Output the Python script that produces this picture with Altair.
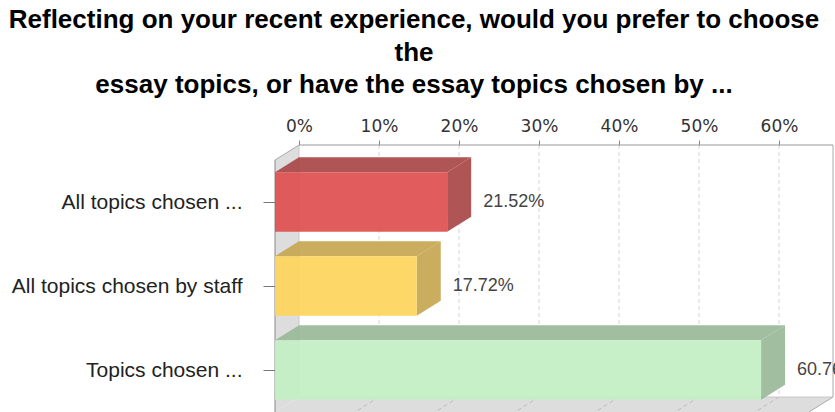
import json
import altair as alt
import pandas as pd

# ---------------- data ----------------
title_lines = [
    "Reflecting on your recent experience, would you prefer to choose",
    "the",
    "essay topics, or have the essay topics chosen by ...",
]
categories = ["All topics chosen ...", "All topics chosen by staff", "Topics chosen ..."]
values = [21.52, 17.72, 60.76]
tick_values = [0, 10, 20, 30, 40, 50, 60]

# ---------------- style / 3D geometry constants ----------------
front_colors = ["#DE4E4E", "#FDD55C", "#C3EFC3"]
side_colors = ["#A84646", "#C6A650", "#99B899"]
X_MAX = 66.75      # right edge of the back wall (in % units)
DX = 3.0           # depth offset along x (in % units)
DY = 15 / 84       # depth offset along y (in band units)
PAD = 0.145        # padding inside each band
N = len(categories)

xs = alt.Scale(domain=[-DX, X_MAX], nice=False, zero=False)
ys = alt.Scale(domain=[0, N + DY], nice=False, zero=False, reverse=True)

label_expr = json.dumps(categories) + "[floor(datum.value)]"
x_axis = alt.Axis(
    orient="top", values=tick_values, labelExpr="datum.value + '%'",
    tickSize=5, tickColor="#888888", domain=False, grid=False,
    labelFont="DejaVu Sans", labelFontSize=17, labelColor="#333333",
    labelPadding=5, labelOverlap=False, labelFlush=False, title=None)
y_axis = alt.Axis(
    orient="left", values=[i + 0.5 + DY for i in range(N)], labelExpr=label_expr,
    tickSize=12, tickColor="#777777", domain=False, grid=False,
    labelFont="Liberation Sans", labelFontSize=21, labelColor="#222222",
    labelPadding=21, labelLimit=400, labelOverlap=False, labelFlush=False, title=None)

# bar faces
fronts, tops, sides, labels = [], [], [], []
for i, (c, v) in enumerate(zip(categories, values)):
    fronts.append(dict(cat=c, x=-DX, x2=v - DX, y=i + DY + PAD, y2=i + DY + 1 - PAD, fill=front_colors[i]))
    tops.append(dict(face=f"t{i}", y=i + PAD, x=0, x2=v, fill=side_colors[i]))
    tops.append(dict(face=f"t{i}", y=i + PAD + DY, x=-DX, x2=v - DX, fill=side_colors[i]))
    sides.append(dict(face=f"s{i}", x=v - DX, y=i + PAD + DY, y2=i + 1 - PAD + DY, fill=side_colors[i]))
    sides.append(dict(face=f"s{i}", x=v, y=i + PAD, y2=i + 1 - PAD, fill=side_colors[i]))
    labels.append(dict(x=v, y=i + 0.5 + DY, text=f"{v:.2f}%"))

wall = pd.DataFrame([
    dict(face="wall", x=-DX, y=DY, y2=N + DY),
    dict(face="wall", x=0, y=0, y2=N),
])
floor = pd.DataFrame([
    dict(face="floor", y=N, x=0, x2=X_MAX),
    dict(face="floor", y=N + DY, x=-DX, x2=X_MAX - DX),
])

solid_lines = pd.DataFrame([
    dict(x=0, x2=X_MAX, y=0, y2=0, c="#999999"),              # top axis line
    dict(x=X_MAX, x2=X_MAX, y=0, y2=N, c="#AAAAAA"),          # right border
    dict(x=0, x2=0, y=0, y2=N, c="#C8C8C8"),                  # wall back edge
    dict(x=0, x2=X_MAX, y=N, y2=N, c="#C8C8C8"),              # floor back edge
    dict(x=-DX, x2=0, y=DY, y2=0, c="#AAAAAA"),               # wall top edge
    dict(x=X_MAX, x2=X_MAX - DX, y=N, y2=N + DY, c="#AAAAAA"),  # floor right edge
    dict(x=-DX, x2=-DX, y=DY, y2=N + DY, c="#888888"),        # wall front edge
])
grid = pd.DataFrame([dict(x=t, x2=t, y=0, y2=N) for t in tick_values[1:]])
floor_grid = pd.DataFrame([dict(x=t, x2=t - DX, y=N, y2=N + DY) for t in tick_values[1:]])


def X(f="x"):
    return alt.X(f"{f}:Q", scale=xs, axis=x_axis, stack=None)


def Y(f="y"):
    return alt.Y(f"{f}:Q", scale=ys, axis=y_axis, stack=None)


wall_layer = alt.Chart(wall).mark_area(orient="vertical", color="#DDDDDD").encode(
    x=X(), y=Y(), y2="y2:Q", detail="face:N")
floor_layer = alt.Chart(floor).mark_area(orient="horizontal", color="#DDDDDD").encode(
    y=Y(), x=X(), x2="x2:Q", detail="face:N")
grid_layer = alt.Chart(grid).mark_rule(color="#D4D4D4", strokeDash=[4, 3]).encode(
    x=X(), x2="x2:Q", y=Y(), y2="y2:Q")
floor_grid_layer = alt.Chart(floor_grid).mark_rule(color="#BBBBBB", strokeDash=[4, 3]).encode(
    x=X(), x2="x2:Q", y=Y(), y2="y2:Q")
lines_layer = alt.Chart(solid_lines).mark_rule(strokeWidth=1).encode(
    x=X(), x2="x2:Q", y=Y(), y2="y2:Q", color=alt.Color("c:N", scale=None))

side_layer = alt.Chart(pd.DataFrame(sides)).mark_area(orient="vertical", opacity=0.92).encode(
    x=X(), y=Y(), y2="y2:Q", detail="face:N", color=alt.Color("fill:N", scale=None))
top_layer = alt.Chart(pd.DataFrame(tops)).mark_area(orient="horizontal", opacity=0.92).encode(
    y=Y(), x=X(), x2="x2:Q", detail="face:N", color=alt.Color("fill:N", scale=None))
front_layer = alt.Chart(pd.DataFrame(fronts)).mark_rect(opacity=0.92).encode(
    x=X(), x2="x2:Q", y=Y(), y2="y2:Q", color=alt.Color("fill:N", scale=None))

label_layer = alt.Chart(pd.DataFrame(labels)).mark_text(
    align="left", baseline="middle", dx=12, font="Liberation Sans", fontSize=18, color="#444444"
).encode(x=X(), y=Y(), text="text:N")

chart = alt.layer(
    wall_layer, floor_layer, grid_layer, floor_grid_layer, lines_layer,
    side_layer, top_layer, front_layer, label_layer,
).properties(
    width=558, height=267,
    padding={"left": 275, "top": 145, "right": 2, "bottom": 0},
    autosize=alt.AutoSizeParams(type="none"),
    title=alt.TitleParams(
        text=title_lines, fontSize=26, fontWeight="bold", font="Liberation Sans",
        color="#000000", anchor="middle", frame="group", dx=-140, lineHeight=32.5, offset=19),
).configure_view(strokeWidth=0)

chart.save("out.html", embed_options={"renderer": "svg", "actions": False})
